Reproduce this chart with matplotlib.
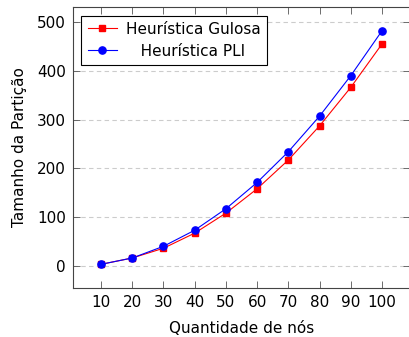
import matplotlib
matplotlib.use("Agg")
import matplotlib.pyplot as plt

nos = [10, 20, 30, 40, 50, 60, 70, 80, 90, 100]
gulosa = [3, 16, 36, 67, 108, 158, 217, 287, 366, 455]
pli = [3, 16, 40, 73, 117, 171, 234, 307, 390, 482]

plt.rcParams['font.family'] = ['DejaVu Sans']
plt.rcParams['font.size'] = 11

fig = plt.figure(figsize=(4.09, 3.37), dpi=100)
ax = fig.add_axes([73/409, 1 - 287.7/337, (410 - 73)/409, (287.7 - 7.3)/337])

ax.plot(nos, gulosa, color='red', marker='s', markersize=5, lw=0.8, label='Heurística Gulosa')
ax.plot(nos, pli, color='blue', marker='o', markersize=5.2, lw=0.8, label='   Heurística PLI')

ax.set_xlim(1, 109)
ax.set_ylim(-45, 530.5)
ax.set_xticks(nos)
ax.set_yticks([0, 100, 200, 300, 400, 500])
ax.yaxis.grid(True, color='#cccccc', linestyle=(0, (4, 3)), lw=0.8)
ax.set_axisbelow(True)
ax.tick_params(direction='in', length=5, width=0.6, color='#555555', top=True, right=True, pad=5)
for s in ax.spines.values():
    s.set_color('#444444')
    s.set_linewidth(0.8)

ax.set_xlabel('Quantidade de nós', labelpad=8)
ax.set_ylabel('Tamanho da Partição', labelpad=7)

leg = ax.legend(loc='upper left', fancybox=False, framealpha=1, edgecolor='black',
                handlelength=1.9, handletextpad=0.6, borderaxespad=0.55,
                labelspacing=0.45, borderpad=0.4)
leg.get_frame().set_linewidth(0.8)

fig.savefig('out.png', dpi=100)
